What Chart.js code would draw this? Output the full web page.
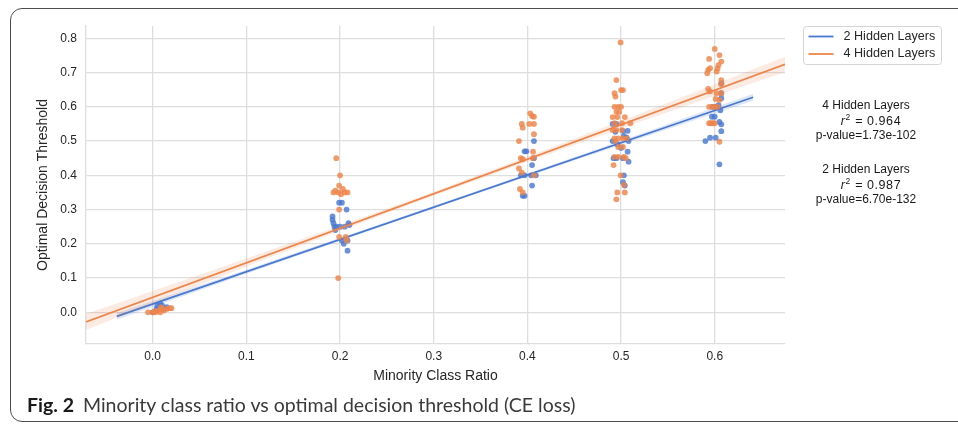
<!DOCTYPE html>
<html>
<head>
<meta charset="utf-8">
<script src="https://cdn.jsdelivr.net/npm/chart.js@4.4.0/dist/chart.umd.min.js"></script>
<style>
  html, body { margin: 0; padding: 0; background: #fff; width: 958px; height: 426px; overflow: hidden; }
  #frame { position: absolute; left: 10px; top: 8px; width: 1000px; height: 412px; border: 1.5px solid #4d4d4d; border-radius: 12px; }
  #chart { position: absolute; left: 0; top: 0; }
  #caption { position: absolute; left: 27px; top: 393px; font-family: Lato, "Open Sans", sans-serif; font-size: 19.5px; line-height: 1.2; color: #3a3a3a; white-space: nowrap; }
  #caption b { color: #1a1a1a; font-weight: 700; margin-right: 9px; }
</style>
</head>
<body>
<div id="frame"></div>
<canvas id="chart" width="958" height="426"></canvas>
<div id="caption"><b>Fig. 2</b>Minority class ratio vs optimal decision threshold (CE loss)</div>
<script>
// Axes
const xMin = -0.0712, xMax = 0.675;
const yMin = -0.0925, yMax = 0.836;
const xTickValues = [0.0, 0.1, 0.2, 0.3, 0.4, 0.5, 0.6];
const yTickValues = [0.0, 0.1, 0.2, 0.3, 0.4, 0.5, 0.6, 0.7, 0.8];

// Séries : [ratio, seuil]
const twoHiddenPts = [
  [0.000,0.000],[0.004,0.010],[0.005,0.020],[0.008,0.025],[0.010,0.020],[0.012,0.010],[0.015,0.015],
  [0.202,0.32],[0.199,0.32],[0.207,0.30],[0.192,0.28],[0.192,0.27],[0.193,0.26],[0.194,0.25],[0.196,0.25],
  [0.200,0.25],[0.205,0.25],[0.209,0.26],[0.210,0.255],[0.202,0.21],[0.204,0.20],[0.208,0.21],[0.208,0.18],[0.195,0.24],
  [0.407,0.50],[0.397,0.47],[0.399,0.47],[0.407,0.45],[0.405,0.43],[0.393,0.40],[0.397,0.40],[0.404,0.40],
  [0.409,0.40],[0.405,0.37],[0.395,0.34],[0.397,0.34],
  [0.491,0.55],[0.495,0.55],[0.494,0.527],[0.502,0.53],[0.507,0.53],[0.491,0.50],[0.496,0.491],[0.503,0.515],
  [0.506,0.51],[0.508,0.50],[0.492,0.45],[0.495,0.45],[0.507,0.469],[0.508,0.44],[0.502,0.45],[0.503,0.40],
  [0.502,0.38],[0.504,0.37],[0.500,0.48],
  [0.607,0.669],[0.607,0.64],[0.607,0.625],[0.604,0.605],[0.598,0.60],[0.601,0.60],[0.606,0.59],[0.597,0.571],
  [0.600,0.571],[0.605,0.556],[0.607,0.549],[0.607,0.529],[0.590,0.50],[0.595,0.51],[0.601,0.51],[0.605,0.432]
];
const fourHiddenPts = [
  [-0.005,0.000],[0.000,0.000],[0.003,0.000],[0.006,0.005],[0.008,0.000],[0.010,0.010],[0.012,0.005],
  [0.015,0.010],[0.018,0.012],[0.020,0.012],[0.002,0.003],[0.009,0.015],
  [0.196,0.45],[0.200,0.40],[0.199,0.37],[0.193,0.35],[0.195,0.355],[0.198,0.35],[0.201,0.345],[0.205,0.35],
  [0.208,0.35],[0.203,0.36],[0.199,0.30],[0.199,0.22],[0.206,0.22],[0.207,0.21],[0.198,0.10],
  [0.403,0.581],[0.405,0.573],[0.407,0.571],[0.394,0.55],[0.395,0.539],[0.402,0.55],[0.407,0.55],[0.407,0.52],
  [0.391,0.50],[0.393,0.45],[0.395,0.447],[0.391,0.42],[0.394,0.408],[0.407,0.40],[0.392,0.36],[0.395,0.35],
  [0.406,0.45],[0.406,0.469],
  [0.4995,0.788],[0.495,0.678],[0.493,0.64],[0.500,0.649],[0.502,0.649],[0.494,0.63],[0.493,0.60],[0.497,0.60],
  [0.500,0.60],[0.495,0.585],[0.498,0.585],[0.491,0.57],[0.496,0.57],[0.504,0.57],[0.493,0.552],[0.501,0.552],
  [0.510,0.552],[0.491,0.532],[0.495,0.532],[0.501,0.532],[0.493,0.508],[0.497,0.508],[0.502,0.508],[0.506,0.508],
  [0.494,0.50],[0.497,0.483],[0.502,0.483],[0.493,0.454],[0.497,0.454],[0.503,0.454],[0.505,0.45],[0.492,0.43],
  [0.4995,0.40],[0.496,0.35],[0.504,0.35],[0.495,0.33],[0.503,0.372],
  [0.600,0.769],[0.605,0.751],[0.594,0.74],[0.607,0.732],[0.604,0.722],[0.603,0.712],[0.593,0.708],[0.592,0.698],
  [0.595,0.713],[0.602,0.703],[0.607,0.678],[0.607,0.666],[0.593,0.652],[0.595,0.645],[0.602,0.64],[0.607,0.64],
  [0.601,0.623],[0.605,0.62],[0.594,0.60],[0.597,0.60],[0.600,0.60],[0.603,0.60],[0.594,0.552],[0.596,0.552],
  [0.598,0.552],[0.600,0.552],[0.605,0.498]
];

// Droites de régression et intervalles de confiance
const twoHiddenFitX = [-0.0384, 0.641];
const twoHiddenFitY = [-0.0117, 0.628];
const twoHiddenBandX = [-0.0384, 0.1, 0.3, 0.5, 0.641];
const twoHiddenBandUpper = [-0.0017, 0.1246, 0.3109, 0.5012, 0.638];
const twoHiddenBandLower = [-0.0217, 0.1126, 0.3029, 0.4892, 0.618];

const fourHiddenFitX = [-0.0712, 0.675];
const fourHiddenFitY = [-0.0283, 0.724];
const fourHiddenBandX = [-0.0712, 0.1, 0.3, 0.5, 0.675];
const fourHiddenBandUpper = [-0.005, 0.157, 0.352, 0.559, 0.746];
const fourHiddenBandLower = [-0.051, 0.133, 0.340, 0.537, 0.702];

// Légende et statistiques
const legendNames = ['2 Hidden Layers', '4 Hidden Layers'];
const seriesColors = ['#4878d0', '#ee854a'];
const statsNames = ['4 Hidden Layers', '2 Hidden Layers'];
const statsR2 = ['0.964', '0.987'];
const statsP = ['1.73e-102', '6.70e-132'];

const tickFont = { family: '"Liberation Sans", Arial, sans-serif', size: 12 };
const titleFont = { family: '"Liberation Sans", Arial, sans-serif', size: 14 };
const gridColor = '#dedede';

const toXY = (xs, ys) => xs.map((x, i) => ({ x: x, y: ys[i] }));
const ptsXY = pts => pts.map(p => ({ x: p[0], y: p[1] }));

function pointSet(pts, color, order) {
  return { type: 'scatter', data: ptsXY(pts), backgroundColor: color + 'd0', borderWidth: 0,
           pointRadius: 2.9, pointHoverRadius: 2.9, order: order };
}
function lineSet(xs, ys, color, order) {
  return { type: 'line', data: toXY(xs, ys), borderColor: color, borderWidth: 1.8,
           pointRadius: 0, fill: false, order: order };
}
function bandSet(xs, ys, fill, rgba, order) {
  return { type: 'line', data: toXY(xs, ys), borderWidth: 0, borderColor: 'rgba(0,0,0,0)',
           backgroundColor: rgba, pointRadius: 0, tension: 0.3, fill: fill, order: order };
}

// Texte à droite du graphique (légende + r² / p-value)
const sideText = {
  id: 'sideText',
  afterDraw(chart) {
    const c = chart.ctx;
    const a = chart.chartArea;
    const fam = '"Liberation Sans", Arial, sans-serif';
    c.save();
    // cadre de la légende
    const lx = a.right + 18.5, ly = a.top + 0.5;
    c.fillStyle = 'rgba(255,255,255,0.85)';
    c.strokeStyle = '#d4d4d4';
    c.lineWidth = 1;
    c.beginPath();
    c.roundRect(lx, ly, 138, 38, 3);
    c.fill();
    c.stroke();
    c.textBaseline = 'middle';
    c.textAlign = 'left';
    c.font = '12.6px ' + fam;
    legendNames.forEach((name, i) => {
      const y = ly + 10 + i * 17.5;
      c.strokeStyle = seriesColors[i];
      c.lineWidth = 1.8;
      c.beginPath();
      c.moveTo(lx + 5, y);
      c.lineTo(lx + 30, y);
      c.stroke();
      c.fillStyle = '#262626';
      c.fillText(name, lx + 40, y);
    });

    // statistiques
    const cx = a.right + 81;
    c.fillStyle = '#1a1a1a';
    statsNames.forEach((name, i) => {
      const y0 = a.top + 80 + i * 63.3;
      c.textAlign = 'center';
      c.font = '12px ' + fam;
      c.fillText(name, cx, y0);
      c.fillText('p-value=' + statsP[i], cx, y0 + 30);
      // r² = ...
      const eq = ' = ';
      const val = statsR2[i];
      c.font = 'italic 12.5px ' + fam;
      const wr = c.measureText('r').width;
      c.font = '8.5px ' + fam;
      const w2 = c.measureText('2').width;
      c.font = '12.5px ' + fam;
      const weq = c.measureText(eq).width + 2;
      const wval = c.measureText(val).width + 3;
      let x = cx + 5 - (wr + w2 + 1 + weq + wval) / 2;
      const y = y0 + 16;
      c.textAlign = 'left';
      c.font = 'italic 12.5px ' + fam;
      c.fillText('r', x, y);
      x += wr + 0.5;
      c.font = '8.5px ' + fam;
      c.fillText('2', x, y - 4);
      x += w2 + 0.5;
      c.font = '12.5px ' + fam;
      c.fillText(eq, x + 1, y);
      x += weq;
      c.letterSpacing = '0.6px';
      c.fillText(val, x, y);
      c.letterSpacing = '0px';
    });
    c.restore();
  }
};

const ctx = document.getElementById('chart');

const chart = new Chart(ctx, {
  type: 'scatter',
  data: {
    datasets: [
      pointSet(twoHiddenPts, seriesColors[0], 7),
      bandSet(twoHiddenBandX, twoHiddenBandUpper, '+1', 'rgba(72,120,208,0.18)', 6),
      bandSet(twoHiddenBandX, twoHiddenBandLower, false, 'rgba(72,120,208,0.18)', 6),
      lineSet(twoHiddenFitX, twoHiddenFitY, seriesColors[0], 5),
      pointSet(fourHiddenPts, seriesColors[1], 4),
      bandSet(fourHiddenBandX, fourHiddenBandUpper, '+1', 'rgba(238,133,74,0.16)', 3),
      bandSet(fourHiddenBandX, fourHiddenBandLower, false, 'rgba(238,133,74,0.16)', 3),
      lineSet(fourHiddenFitX, fourHiddenFitY, seriesColors[1], 2)
    ]
  },
  options: {
    responsive: false,
    animation: false,
    layout: { padding: { top: 26, right: 173, bottom: 36, left: 0 } },
    plugins: { legend: { display: false }, tooltip: { enabled: false } },
    scales: {
      x: {
        type: 'linear', min: xMin, max: xMax,
        afterFit: s => { s.height = 46; },
        afterBuildTicks: s => { s.ticks = xTickValues.map(v => ({ value: v })); },
        grid: { color: gridColor, lineWidth: 1.3, drawTicks: false },
        border: { color: gridColor, width: 1.3 },
        ticks: { padding: 5, color: '#262626', font: tickFont, callback: v => v.toFixed(1) },
        title: { display: true, text: 'Minority Class Ratio', color: '#262626', font: titleFont,
                 padding: { top: 0, bottom: 5.6 } }
      },
      y: {
        type: 'linear', min: yMin, max: yMax,
        afterFit: s => { s.width = 86; },
        afterBuildTicks: s => { s.ticks = yTickValues.map(v => ({ value: v })); },
        grid: { color: gridColor, lineWidth: 1.3, drawTicks: false },
        border: { color: gridColor, width: 1.3 },
        ticks: { padding: 9, color: '#262626', font: tickFont, callback: v => v.toFixed(1) },
        title: { display: true, text: 'Optimal Decision Threshold', color: '#262626', font: titleFont,
                 padding: { top: 34.6, bottom: 0 } }
      }
    }
  },
  plugins: [sideText]
});
</script>
</body>
</html>
